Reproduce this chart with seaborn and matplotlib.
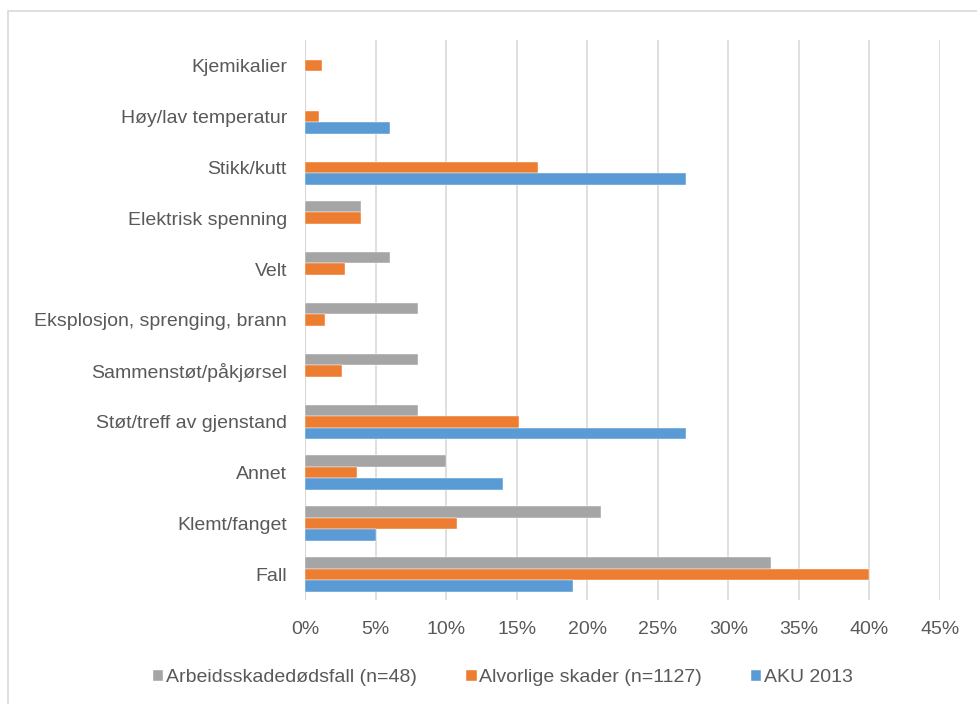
import pandas as pd
import numpy as np
import matplotlib
matplotlib.use('Agg')
import matplotlib.pyplot as plt
import seaborn as sns
from matplotlib.patches import Rectangle

# Categories top to bottom
categories = ['Kjemikalier', 'Høy/lav temperatur', 'Stikk/kutt', 'Elektrisk spenning', 'Velt',
              'Eksplosjon, sprenging, brann', 'Sammenstøt/påkjørsel', 'Støt/treff av gjenstand',
              'Annet', 'Klemt/fanget', 'Fall']

# Percent values per series (NaN = no bar)
dodsfall = [np.nan, np.nan, np.nan, 4, 6, 8, 8, 8, 10, 21, 33]
alvorlige = [1.2, 1.0, 16.5, 4, 2.8, 1.4, 2.6, 15.2, 3.7, 10.8, 40]
aku = [np.nan, 6, 27, np.nan, np.nan, np.nan, np.nan, 27, 14, 5, 19]

series_names = ['Arbeidsskadedødsfall (n=48)', 'Alvorlige skader (n=1127)', 'AKU 2013']
colors = ['#A5A5A5', '#ED7D31', '#5B9BD5']
ticks = [0, 5, 10, 15, 20, 25, 30, 35, 40, 45]

rows = []
for name, vals in zip(series_names, [dodsfall, alvorlige, aku]):
    for cat, v in zip(categories, vals):
        rows.append({'kategori': cat, 'serie': name, 'andel': v})
df = pd.DataFrame(rows)

sns.set_style('white')
plt.rcParams['font.family'] = ['Liberation Sans', 'DejaVu Sans']
text_col = '#595959'
fs = 14

fig = plt.figure(figsize=(9.78, 7.04), dpi=100)
ax = fig.add_axes([305 / 978, 1 - 600 / 704, (940 - 305) / 978, (600 - 40) / 704])

sns.barplot(data=df, y='kategori', x='andel', hue='serie', order=categories,
            hue_order=series_names, palette=colors, width=0.68, orient='h',
            saturation=1, edgecolor='white', linewidth=0.3, ax=ax)

ax.set_xlim(0, 45)
ax.set_ylim(len(categories) - 0.5, -0.5)
ax.set_xticks(ticks)
ax.set_xticklabels([f'{t}%' for t in ticks])
ax.set_xlabel('')
ax.set_ylabel('')
ax.grid(axis='x', color='#D9D9D9', linewidth=1.2)
ax.set_axisbelow(True)
for s in ax.spines.values():
    s.set_visible(False)
ax.axvline(0, color='#D0D0D0', linewidth=1.5, zorder=0)
ax.tick_params(axis='both', length=0, labelsize=fs, colors=text_col)
ax.tick_params(axis='x', pad=15)
ax.tick_params(axis='y', pad=13)

ax.get_legend().remove()
handles, labels = ax.get_legend_handles_labels()
fig.legend(handles[:3], labels[:3], loc='center', bbox_to_anchor=(503 / 978, 1 - 678 / 704),
           ncol=3, frameon=False, fontsize=fs, labelcolor=text_col,
           handlelength=0.55, handleheight=0.55, handletextpad=0.15, columnspacing=2.5)

# light chart border
fig.patches.append(Rectangle((8 / 978, -0.01), 1.0, 1 - 11 / 704 + 0.01, transform=fig.transFigure,
                             fill=False, edgecolor='#D9D9D9', linewidth=1.2))

fig.savefig('out.png', dpi=100, facecolor='white')
